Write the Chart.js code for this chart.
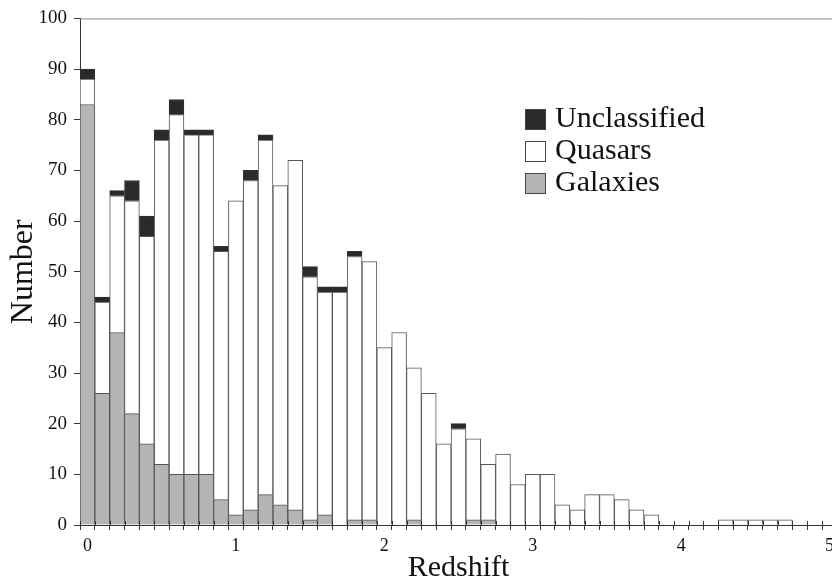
<!DOCTYPE html>
<html>
<head>
<meta charset="utf-8">
<title>Redshift</title>
<script src="https://cdn.jsdelivr.net/npm/chart.js@4/dist/chart.umd.min.js"></script>
<style>
  html, body { margin: 0; padding: 0; background: #fff; }
  #wrap { position: relative; width: 832px; height: 583px; overflow: hidden; }
  #chart { position: absolute; left: 0; top: 0; }
  #legenda { position: absolute; left: 525px; top: 101px; font-family: "Liberation Serif", serif; font-size: 30px; color: #111; }
  #legenda div { height: 32px; line-height: 32px; white-space: nowrap; }
  #legenda span.caixa { display: inline-block; width: 19px; height: 19px; border: 1px solid #444; margin-right: 9px; vertical-align: -3px; }
</style>
</head>
<body>
<div id="wrap">
  <canvas id="chart" width="845" height="583"></canvas>
  <div id="legenda"></div>
</div>
<script>
// Intervalos de redshift (largura 0.1)
const categorias = [
  "0", "0.1", "0.2", "0.3", "0.4", "0.5", "0.6", "0.7", "0.8", "0.9",
  "1", "1.1", "1.2", "1.3", "1.4", "1.5", "1.6", "1.7", "1.8", "1.9",
  "2", "2.1", "2.2", "2.3", "2.4", "2.5", "2.6", "2.7", "2.8", "2.9",
  "3", "3.1", "3.2", "3.3", "3.4", "3.5", "3.6", "3.7", "3.8", "3.9",
  "4", "4.1", "4.2", "4.3", "4.4", "4.5", "4.6", "4.7", "4.8", "4.9",
  "5"
];

// Contagens por intervalo
const galaxias = [
  83, 26, 38, 22, 16, 12, 10, 10, 10, 5,
  2, 3, 6, 4, 3, 1, 2, 0, 1, 1,
  0, 0, 1, 0, 0, 0, 1, 1, 0, 0,
  0, 0, 0, 0, 0, 0, 0, 0, 0, 0,
  0, 0, 0, 0, 0, 0, 0, 0, 0, 0,
  0
];
const quasares = [
  5, 18, 27, 42, 41, 64, 71, 67, 67, 49,
  62, 65, 70, 63, 69, 48, 44, 46, 52, 51,
  35, 38, 30, 26, 16, 19, 16, 11, 14, 8,
  10, 10, 4, 3, 6, 6, 5, 3, 2, 0,
  0, 0, 0, 1, 1, 1, 1, 1, 0, 0,
  0
];
const naoClassificados = [
  2, 1, 1, 4, 4, 2, 3, 1, 1, 1,
  0, 2, 1, 0, 0, 2, 1, 1, 1, 0,
  0, 0, 0, 0, 0, 1, 0, 0, 0, 0,
  0, 0, 0, 0, 0, 0, 0, 0, 0, 0,
  0, 0, 0, 0, 0, 0, 0, 0, 0, 0,
  0
];

// Marcas do eixo Y
const ticksY = [0, 10, 20, 30, 40, 50, 60, 70, 80, 90, 100];

const fonte = "Liberation Serif";

// Moldura superior e marcas do eixo X que cruzam a linha de base
const moldura = {
  id: "moldura",
  afterDatasetsDraw(chart) {
    const { ctx, chartArea, scales } = chart;
    const x = scales.x;
    ctx.save();
    ctx.strokeStyle = "#888";
    ctx.lineWidth = 1;
    ctx.beginPath();
    ctx.moveTo(chartArea.left, chartArea.top + 0.5);
    ctx.lineTo(chartArea.right, chartArea.top + 0.5);
    ctx.stroke();
    ctx.strokeStyle = "#333";
    ctx.beginPath();
    const passo = x.getPixelForValue(1) - x.getPixelForValue(0);
    for (let i = 0; i <= categorias.length; i++) {
      const px = Math.round(x.getPixelForValue(i) - passo / 2) + 0.5;
      ctx.moveTo(px, chartArea.bottom - 4);
      ctx.lineTo(px, chartArea.bottom);
    }
    ctx.moveTo(chartArea.left, chartArea.bottom + 0.5);
    ctx.lineTo(chartArea.right, chartArea.bottom + 0.5);
    ctx.stroke();
    ctx.restore();
  }
};

document.addEventListener("DOMContentLoaded", () => {
  const ctx = document.getElementById("chart").getContext("2d");

  const grafico = new Chart(ctx, {
    type: "bar",
    data: {
      labels: categorias,
      datasets: [
        { label: "Galaxies", data: galaxias, backgroundColor: "#b5b5b5", borderColor: "#555", borderWidth: 1 },
        { label: "Quasars", data: quasares, backgroundColor: "#ffffff", borderColor: "#555", borderWidth: 1 },
        { label: "Unclassified", data: naoClassificados, backgroundColor: "#2a2a2a", borderColor: "#333", borderWidth: 1 }
      ]
    },
    options: {
      responsive: false,
      devicePixelRatio: 1,
      animation: false,
      layout: { padding: { left: 0, top: 18, right: 8, bottom: 0 } },
      datasets: { bar: { barPercentage: 1, categoryPercentage: 1 } },
      plugins: {
        legend: { display: false },
        tooltip: { enabled: false }
      },
      scales: {
        x: {
          stacked: true,
          grid: { display: true, drawOnChartArea: false, tickLength: 5, color: "#333" },
          border: { display: true, color: "#333", z: 1 },
          ticks: {
            autoSkip: false,
            maxRotation: 0,
            padding: 5,
            color: "#111",
            font: { family: fonte, size: 18 },
            callback: function (valor, i) {
              return i % 10 === 0 ? this.getLabelForValue(valor) : "";
            }
          },
          title: {
            display: true,
            text: "Redshift",
            color: "#111",
            font: { family: fonte, size: 30 },
            padding: { top: 0, bottom: -3 }
          },
          afterFit: (escala) => { escala.height = 58; }
        },
        y: {
          stacked: true,
          min: 0,
          max: 100,
          afterBuildTicks: (escala) => { escala.ticks = ticksY.map(v => ({ value: v })); },
          grid: { display: true, drawOnChartArea: false, tickLength: 6, color: "#333" },
          border: { display: true, color: "#333" },
          ticks: {
            padding: 7,
            color: "#111",
            font: { family: fonte, size: 19 }
          },
          title: {
            display: true,
            text: "Number",
            color: "#111",
            font: { family: fonte, size: 32 },
            padding: { top: 4, bottom: 0 }
          },
          afterFit: (escala) => { escala.width = 80; }
        }
      }
    },
    plugins: [moldura]
  });

  // Legenda na ordem inversa do empilhamento
  const legenda = document.getElementById("legenda");
  grafico.data.datasets.slice().reverse().forEach(ds => {
    const linha = document.createElement("div");
    const caixa = document.createElement("span");
    caixa.className = "caixa";
    caixa.style.background = ds.backgroundColor;
    linha.appendChild(caixa);
    linha.appendChild(document.createTextNode(ds.label));
    legenda.appendChild(linha);
  });
});
</script>
</body>
</html>
